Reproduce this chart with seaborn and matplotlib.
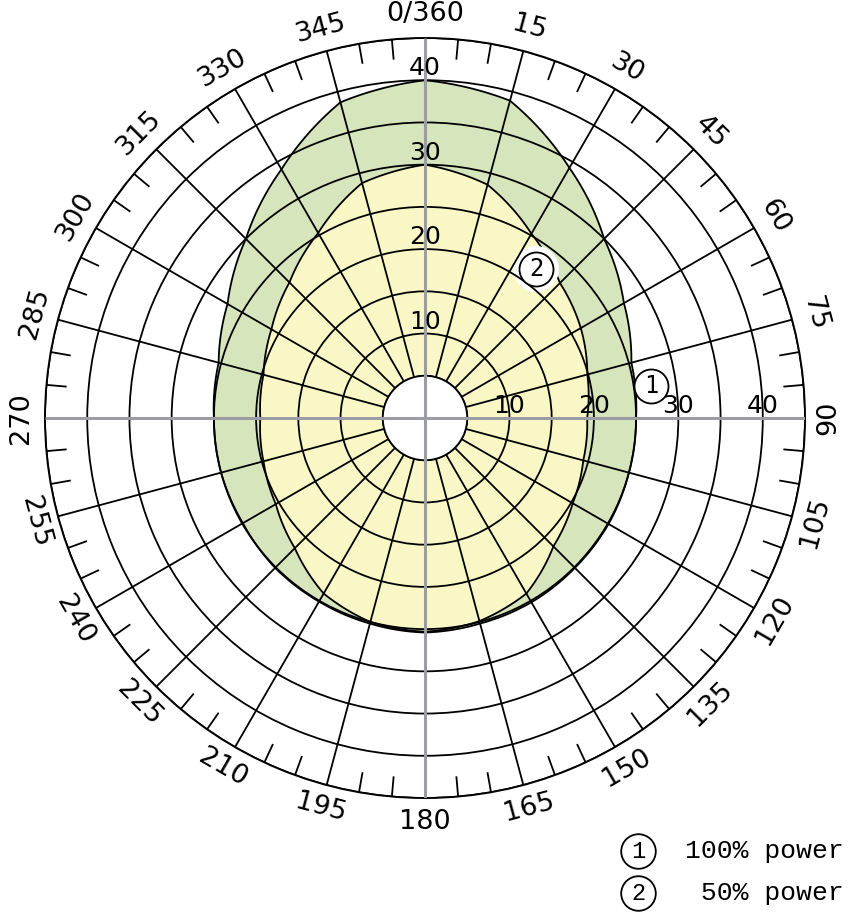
import numpy as np
import matplotlib
matplotlib.use('Agg')
import matplotlib.pyplot as plt
import seaborn as sns
from matplotlib.path import Path
from matplotlib.patches import PathPatch

# radiation pattern, read every 15 deg, clockwise from north
ANGLES = np.arange(0, 360, 15)
FULL_POWER = [40.0, 38.9, 34.2, 30.0, 27.2, 25.3, 25.0, 25.0, 25.1, 25.1, 25.2, 25.2,
              25.4, 25.2, 25.1, 25.1, 24.9, 25.0, 25.0, 25.3, 27.0, 30.0, 34.0, 38.7]
HALF_POWER = [30.0, 28.6, 25.2, 22.6, 21.3, 19.9, 19.2, 19.4, 20.2, 21.5, 24.0, 24.9,
              25.3, 25.0, 24.0, 21.8, 20.4, 19.8, 19.5, 19.8, 21.0, 22.7, 25.3, 28.8]

RING_VALUES = [10, 20, 30, 40]
ANGLE_LABELS = ['0/360'] + [str(a) for a in ANGLES[1:]]
MINOR_ANGLES = [a for a in range(0, 360, 5) if a % 15]

CALLOUT_ANGLES = [82, 36.7]
CALLOUT_RADII = [27.0, 22.0]
CALLOUT_TEXT = ['1', '2']
LEGEND_TEXT = ['100% power', ' 50% power']

GREEN = '#d6e5bc'
YELLOW = '#faf7c7'
GREY = '#9b9ca4'

sns.set_style('white')
plt.rcParams['font.family'] = ['DejaVu Sans']
plt.rcParams['text.color'] = 'black'

fig = plt.figure(figsize=(8.51, 9.15), dpi=100)
ax = fig.add_axes([45 / 851, 117 / 915, 760 / 851, 760 / 915], projection='polar')
ax.set_theta_zero_location('N')
ax.set_theta_direction(-1)


def pattern_patch(values, color):
    theta = np.deg2rad(np.append(ANGLES, 360))
    r = np.append(values, values[0])
    path = Path(np.column_stack([theta, r]), _interpolation_steps=20)
    return PathPatch(path, facecolor=color, edgecolor='black', lw=1.3,
                     transform=ax.transData, zorder=1)


ax.add_patch(pattern_patch(FULL_POWER, GREEN))
ax.add_patch(pattern_patch(HALF_POWER, YELLOW))

# white blob behind callout 2
sns.scatterplot(x=np.deg2rad(CALLOUT_ANGLES[1:]), y=CALLOUT_RADII[1:], ax=ax,
                s=1100, color='white', edgecolor='none', zorder=1.5, legend=False)

# centre hole
ax.bar(0, 5, width=2 * np.pi, bottom=0, align='edge', color='white',
       edgecolor='black', lw=1.3, zorder=3)

# grey main axes and minor ticks on the rim
ax.vlines(np.deg2rad([0, 90, 180, 270]), 0, 45, colors=GREY, lw=2.2, zorder=4)
ax.vlines(np.deg2rad(MINOR_ANGLES), 42.6, 45, colors='black', lw=1.3, zorder=4)

ax.set_xticks(np.deg2rad(ANGLES))
ax.set_xticklabels([])
ax.set_yticks(np.arange(5, 46, 5))
ax.set_yticklabels([])
ax.grid(True, color='black', lw=1.3)
ax.set_axisbelow(False)
ax.spines['polar'].set_color('black')
ax.spines['polar'].set_linewidth(1.4)
ax.set_xlim(0, 2 * np.pi)
ax.set_ylim(0, 45)

for v in RING_VALUES:
    ax.text(0, v, str(v), ha='center', va='bottom', fontsize=18, zorder=5)
    ax.text(np.pi / 2, v, str(v), ha='center', va='bottom', fontsize=18, zorder=5)

for a, lab in zip(ANGLES, ANGLE_LABELS):
    rot = 180 - a if 90 <= a < 270 else -a
    rot = (rot + 180) % 360 - 180
    ax.text(np.deg2rad(a), 47.8, lab, rotation=rot, rotation_mode='anchor',
            ha='center', va='center', fontsize=19.5, clip_on=False)

# numbered callouts on the curves
sns.scatterplot(x=np.deg2rad(CALLOUT_ANGLES), y=CALLOUT_RADII, ax=ax, s=600,
                color='white', edgecolor='black', linewidth=1.3, zorder=5, legend=False)
for a, r, t in zip(CALLOUT_ANGLES, CALLOUT_RADII, CALLOUT_TEXT):
    ax.text(np.deg2rad(a), r, t, ha='center', va='center', fontsize=17,
            family='DejaVu Sans Mono', zorder=6)
ax.set_xlabel('')
ax.set_ylabel('')

# legend in pixel coordinates
lax = fig.add_axes([0, 0, 1, 1])
lax.set_xlim(0, 851)
lax.set_ylim(915, 0)
lax.axis('off')
sns.scatterplot(x=[638, 638], y=[851, 893], ax=lax, s=620, color='white',
                edgecolor='black', linewidth=1.3, legend=False)
for y, t, lab in zip([851, 893], CALLOUT_TEXT, LEGEND_TEXT):
    lax.text(638, y, t, ha='center', va='center', fontsize=17, family='Liberation Mono')
    lax.text(685, y, lab, ha='left', va='center', fontsize=19, family='Liberation Mono')

fig.savefig('out.png', dpi=100)
